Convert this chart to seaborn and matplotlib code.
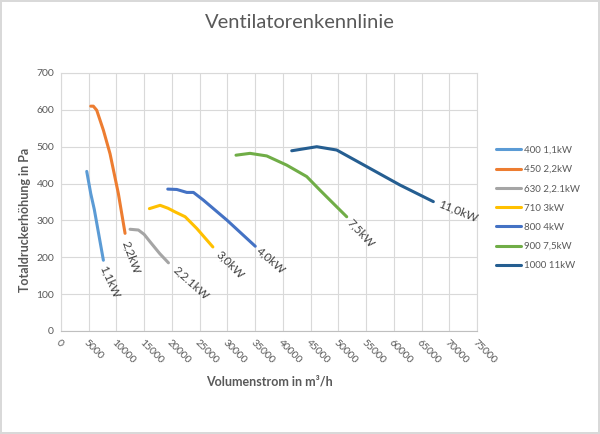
import numpy as np
import pandas as pd
import matplotlib
matplotlib.use("Agg")
import matplotlib.pyplot as plt
import seaborn as sns

# ---- data ----
s400_x = [4640, 5360, 6000, 6560, 7640]
s400_y = [433, 373, 330, 283, 192]
s450_x = [5360, 5830, 6440, 7640, 8840, 10340, 11550]
s450_y = [610, 610, 599, 545, 481, 373, 265]
s630_x = [12450, 13950, 15000, 16060, 17800, 19370]
s630_y = [276, 274, 262, 242, 210, 185]
s710_x = [15940, 17870, 19300, 20580, 22380, 24490, 27380]
s710_y = [332, 341, 333, 323, 310, 278, 228]
s800_x = [19250, 20880, 22680, 23880, 25680, 29900, 35020]
s800_y = [385, 384, 376, 376, 355, 301, 230]
s900_x = [31550, 34080, 37090, 40700, 44300, 46700, 49100, 51510]
s900_y = [477, 482, 475, 450, 419, 382, 346, 310]
s1000_x = [41600, 46110, 49710, 55120, 61120, 67130]
s1000_y = [489, 500, 491, 446, 396, 351]

series_names = ["400 1,1kW", "450 2,2kW", "630 2,2.1kW", "710 3kW",
                "800 4kW", "900 7,5kW", "1000 11kW"]
end_labels = ["1,1kW", "2,2kW", "2,2.1kW", "3,0kW", "4,0kW", "7,5kW", "11,0kW"]
colors = ["#5B9BD5", "#ED7D31", "#A5A5A5", "#FFC000", "#4472C4", "#70AD47", "#255E91"]
x_ticks = list(range(0, 75001, 5000))
y_ticks = list(range(0, 701, 100))

xs = [s400_x, s450_x, s630_x, s710_x, s800_x, s900_x, s1000_x]
ys = [s400_y, s450_y, s630_y, s710_y, s800_y, s900_y, s1000_y]

rows = []
for name, xx, yy in zip(series_names, xs, ys):
    for i, (a, b) in enumerate(zip(xx, yy)):
        rows.append({"series": name, "x": a, "y": b, "order": i})
df = pd.DataFrame(rows)

# label styling (rotation, offset in points)
label_rot = [-66, -70, -42, -45, -41, -47, -22]
label_off = [(4.5, -15.5), (4.5, -17.5), (16.5, -14.5), (12.5, -13.0),
             (11.5, -10.5), (10.5, -12.0), (17.5, -7.0)]

sns.set_theme(style="white")
plt.rcParams["font.family"] = ["Lato", "DejaVu Sans"]
plt.rcParams["lines.solid_capstyle"] = "round"
plt.rcParams["lines.solid_joinstyle"] = "round"
txt = "#595959"

fig = plt.figure(figsize=(6.0, 4.34), dpi=100)
fig.patch.set_facecolor("white")
fig.patch.set_edgecolor("#D9D9D9")
fig.patch.set_linewidth(1.5)
ax = fig.add_axes([61 / 600, 1 - 331 / 434, (477 - 61) / 600, (331 - 73) / 434])

sns.lineplot(data=df, x="x", y="y", hue="series", hue_order=series_names,
             palette=colors, sort=False, estimator=None, linewidth=2.2, ax=ax,
             legend=True)

for xx, yy, lab, rot, off in zip(xs, ys, end_labels, label_rot, label_off):
    ax.annotate(lab, xy=(xx[-1], yy[-1]), xytext=off, textcoords="offset points",
                rotation=rot, rotation_mode="anchor", ha="center", va="center",
                fontsize=8.5, color="#404040")

ax.set_xlim(0, 75000)
ax.set_ylim(0, 700)
ax.set_xticks(x_ticks)
ax.set_yticks(y_ticks)
ax.set_xticklabels([str(v) for v in x_ticks], rotation=-45, ha="left",
                   rotation_mode="anchor", fontsize=7.5, color=txt)
ax.set_yticklabels([str(v) for v in y_ticks], fontsize=7.5, color=txt)
ax.tick_params(length=0, pad=5)
ax.grid(True, color="#D9D9D9", linewidth=0.8)
for s in ax.spines.values():
    s.set_color("#D9D9D9")
    s.set_linewidth(0.8)
ax.spines["bottom"].set_color("#BFBFBF")

ax.set_xlabel("")
ax.set_ylabel("")
fig.text(269 / 600, 1 - 381 / 434, "Volumenstrom in m³/h", ha="center", va="center",
         fontsize=9, fontweight="bold", color=txt)
fig.text(25 / 600, 1 - 220 / 434, "Totaldruckerhöhung in Pa", ha="center", va="center",
         rotation=90, fontsize=9, fontweight="bold", color=txt)
fig.text(300 / 600, 1 - 23 / 434, "Ventilatorenkennlinie", ha="center", va="center",
         fontsize=14.5, color=txt)

leg = ax.legend(loc="upper left", bbox_to_anchor=(492 / 600, 1 - 142 / 434),
                bbox_transform=fig.transFigure, frameon=False, fontsize=7,
                handlelength=2.6, handletextpad=0.25, labelspacing=1.05,
                borderaxespad=0)
for t in leg.get_texts():
    t.set_color(txt)

fig.savefig("out.png", dpi=100)
